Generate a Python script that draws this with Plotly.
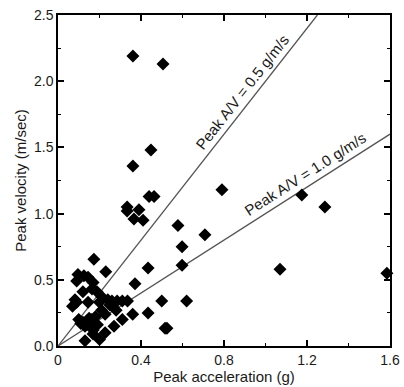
import plotly.graph_objects as go

# Data
accel = [0.361, 0.506, 0.448, 0.361, 0.439, 0.463, 0.333, 0.333, 0.39, 0.366, 0.41,
         0.578, 0.708, 0.598, 0.79, 1.175, 1.286, 1.585, 1.07, 0.434, 0.371, 0.50,
         0.598, 0.62, 0.525, 0.434, 0.36, 0.31, 0.27, 0.516,
         0.173, 0.23, 0.096, 0.125, 0.145, 0.09, 0.169, 0.12, 0.164, 0.188, 0.212,
         0.082, 0.24, 0.145, 0.20, 0.09,
         0.26, 0.285, 0.31, 0.335,
         0.227, 0.145, 0.12, 0.16, 0.18, 0.13, 0.11, 0.19, 0.15, 0.17, 0.14, 0.10,
         0.169, 0.13, 0.20, 0.227, 0.21, 0.28, 0.25, 0.07]
velocity = [2.19, 2.13, 1.48, 1.36, 1.13, 1.13, 1.05, 1.02, 1.03, 0.96, 0.95,
            0.91, 0.84, 0.75, 1.18, 1.14, 1.05, 0.55, 0.58, 0.59, 0.47, 0.34,
            0.61, 0.34, 0.135, 0.25, 0.24, 0.2, 0.15, 0.135,
            0.655, 0.56, 0.54, 0.53, 0.52, 0.49, 0.48, 0.41, 0.43, 0.41, 0.37,
            0.35, 0.35, 0.33, 0.33, 0.33,
            0.34, 0.34, 0.34, 0.34,
            0.24, 0.165, 0.18, 0.20, 0.22, 0.15, 0.17, 0.16, 0.21, 0.12, 0.19, 0.20,
            0.09, 0.04, 0.05, 0.10, 0.27, 0.27, 0.31, 0.30]

line_x = [0, 1.25]
line_05_y = [0, 2.5]
line_10_x = [0, 1.6]
line_10_y = [0, 1.6]

x_dtick = 0.4
y_dtick = 0.5

font = "Liberation Sans, Arial, sans-serif"
txt = "#1a1a1a"

fig = go.Figure()
fig.add_trace(go.Scatter(x=line_x, y=line_05_y, mode="lines",
                         line=dict(color="#555555", width=1.3), hoverinfo="skip"))
fig.add_trace(go.Scatter(x=line_10_x, y=line_10_y, mode="lines",
                         line=dict(color="#555555", width=1.3), hoverinfo="skip"))
fig.add_trace(go.Scatter(x=accel, y=velocity, mode="markers", cliponaxis=False,
                         marker=dict(symbol="diamond", size=10, color="black",
                                     line=dict(width=0))))

fig.add_annotation(x=0.89, y=1.92, text="Peak A/V = 0.5 g/m/s", showarrow=False,
                   textangle=-52, font=dict(size=15, color=txt, family=font))
fig.add_annotation(x=1.195, y=1.30, text="Peak A/V = 1.0 g/m/s", showarrow=False,
                   textangle=-32.6, font=dict(size=15, color=txt, family=font))

axis_common = dict(showline=True, linecolor="black", linewidth=1.5, mirror="allticks",
                   ticks="inside", ticklen=6, tickwidth=1.5, tickcolor="#000000",
                   showgrid=False, zeroline=False, layer="above traces",
                   tickfont=dict(size=14, color=txt, family=font))

fig.update_xaxes(range=[0, 1.6], tickmode="linear", tick0=0, dtick=x_dtick,
                 minor=dict(ticks="inside", ticklen=3, dtick=x_dtick / 2,
                            tickcolor="#000000", tickwidth=1.3),
                 title=dict(text="Peak acceleration (g)", standoff=0,
                            font=dict(size=15, color=txt, family=font)),
                 **axis_common)
fig.update_yaxes(range=[0, 2.5], tickmode="linear", tick0=0, dtick=y_dtick, tickformat=".1f",
                 minor=dict(ticks="inside", ticklen=3, dtick=y_dtick / 2,
                            tickcolor="#000000", tickwidth=1.3),
                 title=dict(text="Peak velocity (m/sec)", standoff=4,
                            font=dict(size=15, color=txt, family=font)),
                 **axis_common)

fig.update_layout(width=404, height=387, showlegend=False,
                  margin=dict(l=58, r=14, t=15, b=41, autoexpand=False),
                  plot_bgcolor="rgba(0,0,0,0)", paper_bgcolor="white",
                  font=dict(family=font))
fig.write_html("out.html", config={"displayModeBar": False},
               post_script="document.body.style.margin='0';document.body.style.padding='0';")
